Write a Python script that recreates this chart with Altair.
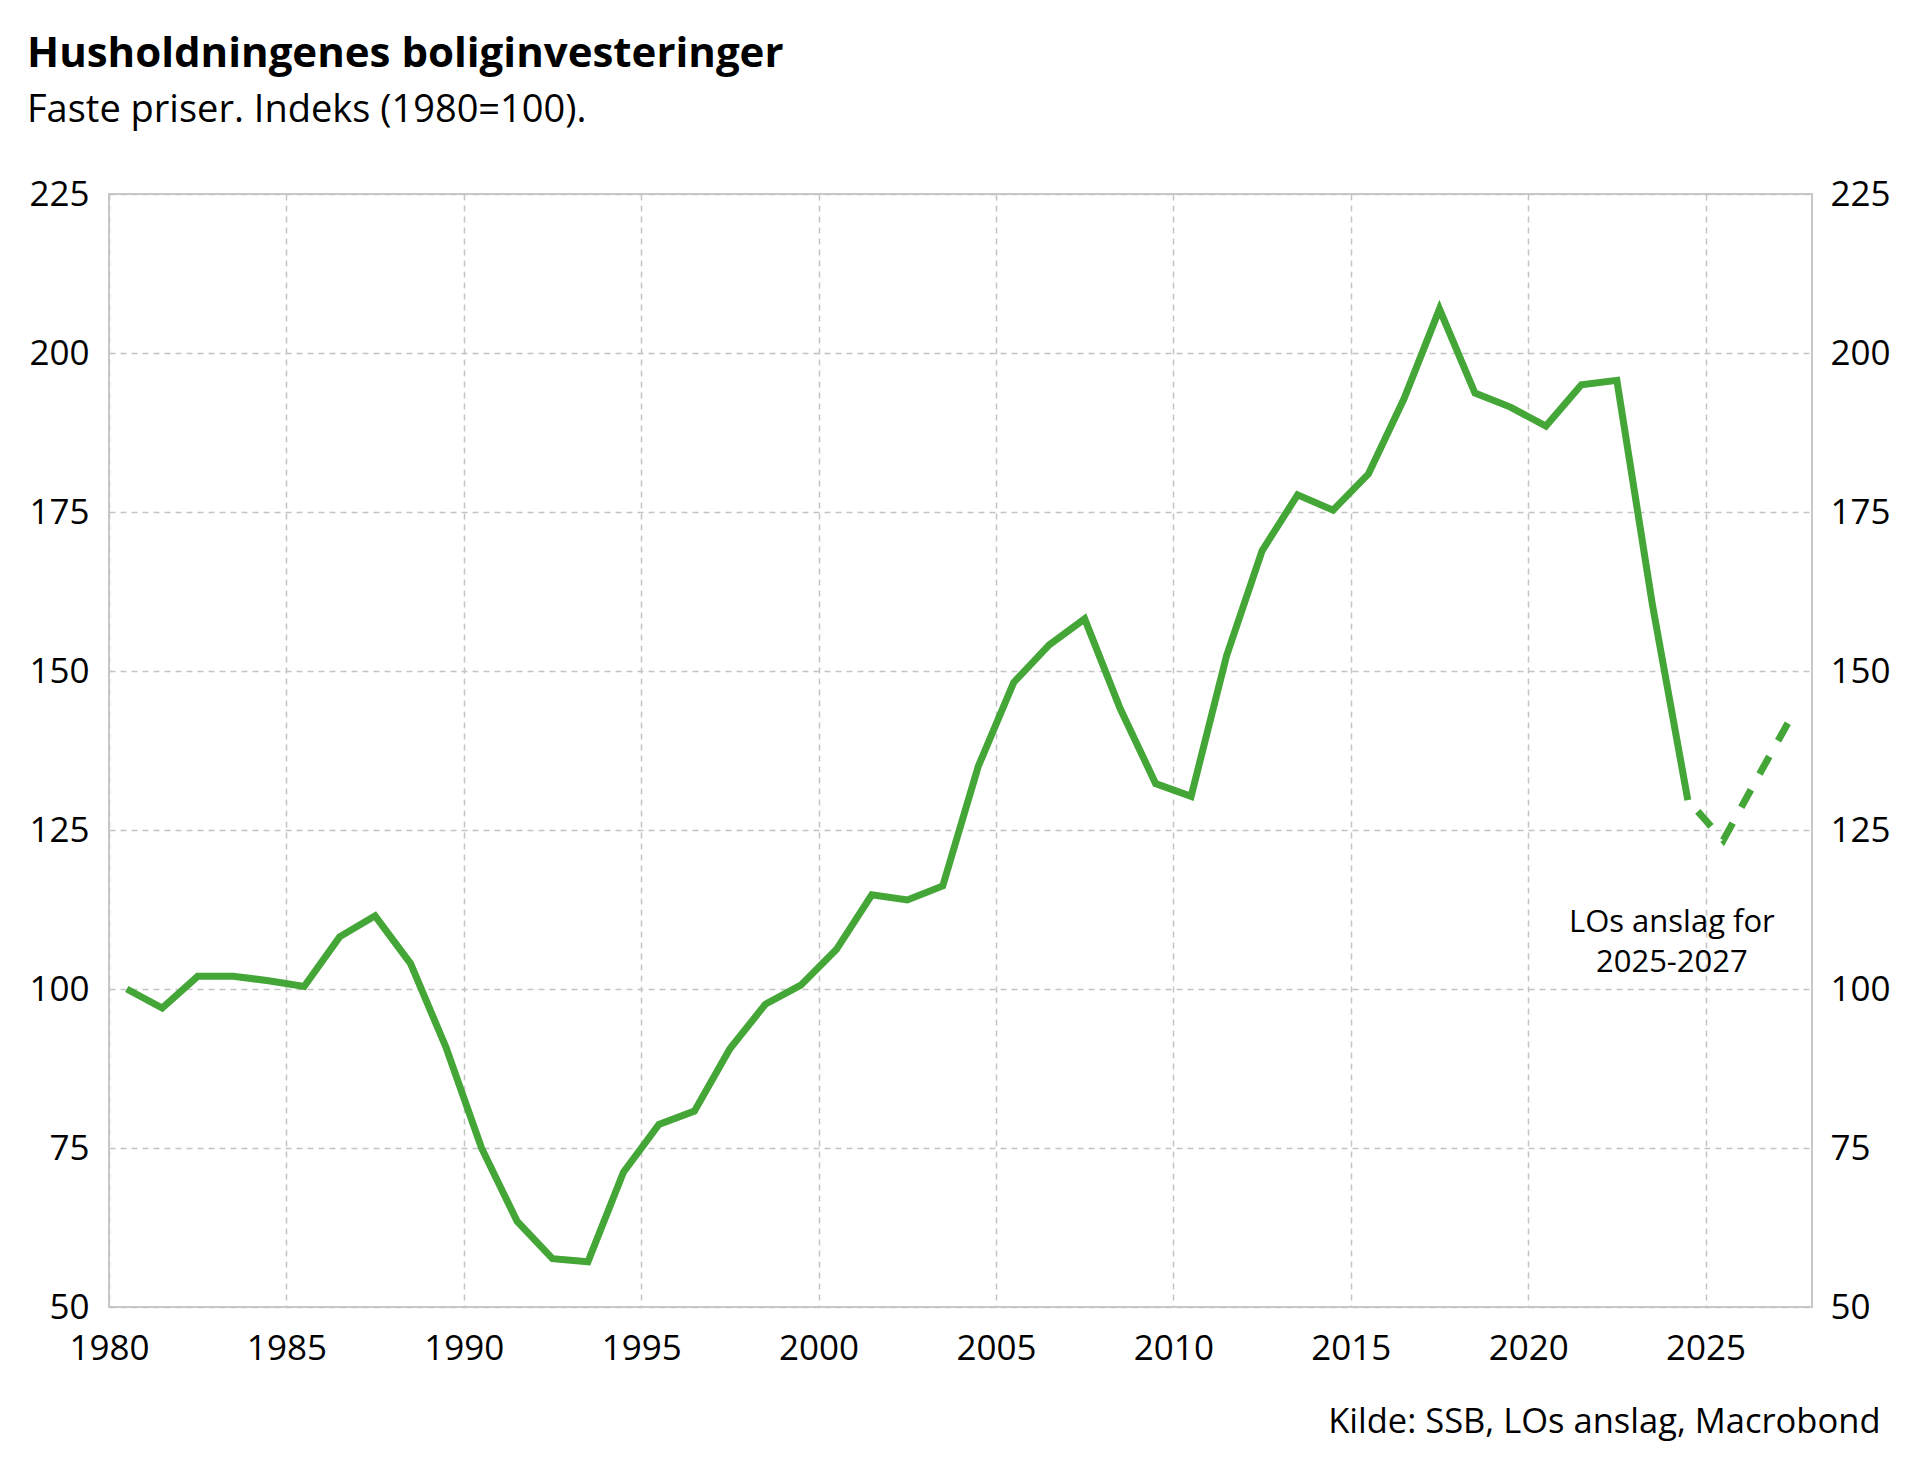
import altair as alt
import pandas as pd

# ---- data ----
hist_years = list(range(1980, 2025))
hist_values = [100.0, 97.0, 102.0, 102.0, 101.3, 100.4, 108.2, 111.5, 104.0, 90.8,
               75.0, 63.5, 57.6, 57.1, 71.2, 78.7, 80.8, 90.6, 97.6, 100.6,
               106.2, 114.8, 114.0, 116.2, 135.0, 148.2, 154.1, 158.2, 144.1, 132.3,
               130.3, 152.4, 168.9, 177.7, 175.3, 181.0, 192.8, 206.9, 193.7, 191.5,
               188.5, 195.0, 195.7, 160.5, 129.7]
fc_years = [2024, 2025, 2026, 2027]
fc_values = [129.7, 123.4, 133.6, 143.6]

x_ticks = [1980, 1985, 1990, 1995, 2000, 2005, 2010, 2015, 2020, 2025]
y_ticks = [50, 75, 100, 125, 150, 175, 200, 225]

note_text = ["LOs anslag for", "2025-2027"]
note_year = 2023.55
note_value = 109.0

title_text = "Husholdningenes boliginvesteringer"
subtitle_text = "Faste priser. Indeks (1980=100)."
source_text = "Kilde: SSB, LOs anslag, Macrobond"

# ---- tables ----
hist = pd.DataFrame({"year": hist_years, "value": hist_values})
hist["x"] = hist["year"] + 0.5
fc = pd.DataFrame({"year": fc_years, "value": fc_values})
fc["x"] = fc["year"] + 0.5
note = pd.DataFrame({"x": [note_year + 0.5], "value": [note_value], "label": [note_text]})

FONT = "Open Sans"
GREEN = "#44a636"
GRID = "#c4c4c4"
W, H = 1703, 1113

x_scale = alt.Scale(domain=[1980, 2028], nice=False, zero=False)
y_scale = alt.Scale(domain=[50, 225], nice=False, zero=False)

x_axis = alt.Axis(values=x_ticks, format="d", grid=True, gridDash=[6, 5], gridColor=GRID,
                  gridWidth=1.5, ticks=False, domain=False, labelPadding=24, labelFlush=False,
                  labelFontSize=35, labelFont=FONT, labelColor="black",
                  title=source_text, titleFont=FONT, titleFontSize=34.5, titleFontWeight="normal",
                  titleColor="black", titleX=W + 68, titleY=125, titleAlign="right",
                  titleBaseline="alphabetic", titleAnchor="end")
x_enc = alt.X("x:Q", scale=x_scale, axis=x_axis)

left_axis = alt.Axis(values=y_ticks, grid=True, gridDash=[6, 5], gridColor=GRID, gridWidth=1.5,
                     ticks=False, domain=False, labelPadding=20, labelFontSize=35,
                     labelFont=FONT, labelColor="black", title=None, orient="left")
right_axis = alt.Axis(values=y_ticks, grid=False, ticks=False, domain=False, labelPadding=18,
                      labelFontSize=35, labelFont=FONT, labelColor="black", title=None,
                      orient="right")

line_hist = alt.Chart(hist).mark_line(color=GREEN, strokeWidth=7, strokeJoin="miter").encode(
    x=x_enc, y=alt.Y("value:Q", scale=y_scale, axis=left_axis)
)
line_fc = alt.Chart(fc).mark_line(color=GREEN, strokeWidth=7, strokeDash=[20, 18],
                                  strokeDashOffset=23).encode(
    x=x_enc, y=alt.Y("value:Q", scale=y_scale, axis=right_axis)
)
label = alt.Chart(note).mark_text(font=FONT, fontSize=31, color="black", align="center",
                                  baseline="alphabetic", lineHeight=40).encode(
    x=x_enc, y=alt.Y("value:Q", scale=y_scale, axis=None), text="label"
)

chart = alt.layer(line_hist, line_fc, label).resolve_axis(y="independent").properties(
    width=W, height=H,
    autosize=alt.AutoSizeParams(type="none"),
    padding={"left": 101, "top": 186, "right": 95, "bottom": 150},
    title=alt.TitleParams(text=title_text, subtitle=subtitle_text, anchor="start", frame="group",
                          dx=-82, offset=46, font=FONT, fontSize=42, fontWeight="bold",
                          color="black", subtitleFont=FONT, subtitleFontSize=38,
                          subtitleColor="black", subtitlePadding=16)
).configure_view(stroke="#c8c8c8", strokeWidth=2)

chart.save("out.html", embed_options={"renderer": "svg", "actions": False})
